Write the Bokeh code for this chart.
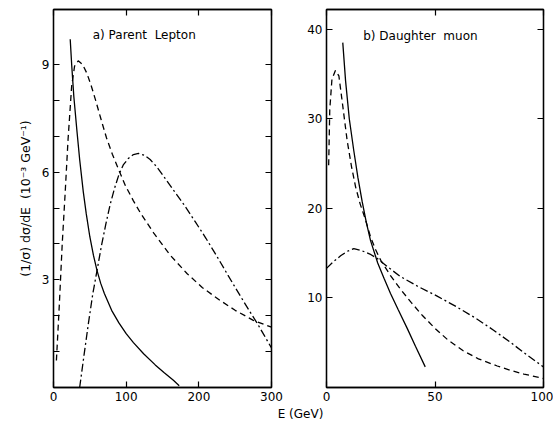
from bokeh.plotting import figure
from bokeh.models import Range1d, LinearAxis, FixedTicker, Label
from bokeh.layouts import row, column
from bokeh.embed import file_html
from bokeh.resources import INLINE

# ---------------- data: panel a) Parent Lepton ----------------
a_solid_E = [23, 25, 28, 32, 36, 41, 45, 50, 55, 60, 65, 70, 80, 90, 100, 110, 124, 140, 152, 165, 173]
a_solid_y = [9.7, 9.0, 8.1, 7.2, 6.35, 5.45, 4.85, 4.2, 3.68, 3.25, 2.9, 2.62, 2.15, 1.8, 1.5, 1.25, 0.94, 0.63, 0.42, 0.2, 0.05]

a_dash_E = [4, 8, 12, 16, 20, 25, 29, 34, 40, 46, 52, 58, 65, 73, 81, 89, 99, 110, 120, 138, 160, 184, 205, 229, 250, 275, 300]
a_dash_y = [0.75, 2.3, 4.0, 5.4, 6.9, 8.4, 8.95, 9.1, 9.0, 8.75, 8.4, 8.0, 7.5, 6.95, 6.5, 6.1, 5.62, 5.2, 4.85, 4.3, 3.7, 3.17, 2.78, 2.43, 2.15, 1.87, 1.68]

a_dd_E = [36, 42, 48, 54, 60, 66, 72, 78, 84, 90, 96, 103, 110, 117, 125, 133, 142, 151, 165, 180, 195, 210, 225, 240, 255, 270, 280, 290, 300]
a_dd_y = [0.0, 0.9, 1.78, 2.6, 3.27, 3.95, 4.55, 5.1, 5.55, 5.93, 6.2, 6.38, 6.49, 6.52, 6.47, 6.35, 6.15, 5.9, 5.5, 5.08, 4.62, 4.15, 3.65, 3.13, 2.62, 2.12, 1.8, 1.45, 1.1]

# ---------------- data: panel b) Daughter muon ----------------
b_solid_E = [7.5, 8.8, 10.5, 12.6, 14.5, 16.4, 18.3, 20.3, 23.6, 26.5, 29.5, 33, 37.2, 41, 45.5]
b_solid_y = [38.5, 34.2, 30.0, 26.4, 23.4, 20.8, 18.5, 16.4, 13.9, 12.2, 10.5, 8.7, 6.6, 4.6, 2.3]

b_dash_E = [1.0, 1.5, 2.5, 4.1, 5.7, 7.2, 9.5, 11.5, 13.4, 15.5, 18, 20.3, 22.6, 25, 29.5, 34, 39, 44, 50, 56, 63, 70, 78.7, 85, 91, 100]
b_dash_y = [24.8, 31.0, 34.4, 35.4, 34.8, 32.0, 27.6, 24.7, 22.4, 20.5, 18.7, 16.8, 15.4, 14.2, 12.5, 11.0, 9.5, 8.1, 6.6, 5.3, 4.1, 3.2, 2.4, 1.9, 1.5, 1.0]

b_dd_E = [0, 3, 6.5, 9.5, 12.6, 16, 20, 23.4, 28, 34, 42, 51, 60, 69, 77, 85, 92, 100]
b_dd_y = [13.3, 14.0, 14.7, 15.2, 15.5, 15.3, 14.9, 14.4, 13.5, 12.4, 11.3, 10.2, 9.0, 7.7, 6.4, 5.0, 3.7, 2.3]

# ticks
a_xticks = [0, 100, 200, 300]
a_yticks = [3, 6, 9]
a_yminor = [1, 2, 4, 5, 7, 8]
b_xticks = [0, 50, 100]
b_yticks = [10, 20, 30, 40]

FONT = "DejaVu Sans"
LW = 1.3


def style_axis(ax, labels=True):
    ax.major_tick_in = 6
    ax.major_tick_out = 0
    ax.minor_tick_in = 6
    ax.minor_tick_out = 0
    ax.axis_line_color = "black"
    ax.axis_line_width = LW
    ax.major_tick_line_color = "black"
    ax.major_tick_line_width = 1.2
    ax.minor_tick_line_color = "black"
    ax.minor_tick_line_width = 1.2
    if labels:
        ax.major_label_text_font = FONT
        ax.major_label_text_font_size = "12px"
        ax.major_label_text_color = "black"
        ax.major_label_standoff = 4
    else:
        ax.major_label_text_font_size = "0px"
        ax.major_label_text_color = None
        ax.major_label_standoff = 0


def make_panel(xr, yr, xticks, yticks, yminor, fw, bl, br):
    p = figure(width=bl + fw + br, height=405,
               frame_width=fw, frame_height=378,
               x_range=Range1d(*xr), y_range=Range1d(*yr),
               min_border_left=bl, min_border_right=br,
               min_border_top=9, min_border_bottom=18,
               output_backend="svg", toolbar_location=None,
               background_fill_color="white", border_fill_color="white")
    p.xgrid.visible = False
    p.ygrid.visible = False
    p.outline_line_color = "black"
    p.outline_line_width = LW
    p.xaxis[0].ticker = FixedTicker(ticks=xticks, minor_ticks=[])
    p.yaxis[0].ticker = FixedTicker(ticks=yticks, minor_ticks=yminor)
    style_axis(p.xaxis[0])
    style_axis(p.yaxis[0])
    right = LinearAxis(ticker=FixedTicker(ticks=yticks, minor_ticks=yminor))
    style_axis(right, labels=False)
    p.add_layout(right, "right")
    top = LinearAxis(ticker=FixedTicker(ticks=xticks, minor_ticks=[]))
    style_axis(top, labels=False)
    p.add_layout(top, "above")
    return p


pa = make_panel((0, 300), (0, 10.53), a_xticks, a_yticks, a_yminor, 218, 53, 27)
pa.yaxis[0].axis_label = "(1/\u03c3) d\u03c3/dE \u00a0(10\u207b\u00b3 GeV\u207b\u00b9)"
pa.yaxis[0].axis_label_text_font = FONT
pa.yaxis[0].axis_label_text_font_size = "12.5px"
pa.yaxis[0].axis_label_text_font_style = "normal"
pa.yaxis[0].axis_label_text_color = "black"
pa.yaxis[0].axis_label_standoff = 6

pa.line(a_solid_E, a_solid_y, line_color="black", line_width=LW)
pa.line(a_dash_E, a_dash_y, line_color="black", line_width=LW, line_dash="6 4")
pa.line(a_dd_E, a_dd_y, line_color="black", line_width=LW, line_dash="8 3 2 3")
pa.add_layout(Label(x=54, y=9.82, text="a) Parent \u00a0Lepton", text_font=FONT,
                    text_font_size="12px", text_baseline="middle", text_color="black"))

pb = make_panel((0, 100), (0, 42.2), b_xticks, b_yticks, [], 217, 28, 10)
pb.line(b_solid_E, b_solid_y, line_color="black", line_width=LW)
pb.line(b_dash_E, b_dash_y, line_color="black", line_width=LW, line_dash="6 4")
pb.line(b_dd_E, b_dd_y, line_color="black", line_width=LW, line_dash="8 3 2 3")
pb.add_layout(Label(x=16.9, y=39.2, text="b) Daughter \u00a0muon", text_font=FONT,
                    text_font_size="12px", text_baseline="middle", text_color="black"))

# strip with the shared x-axis title
pc = figure(width=553, height=20, frame_width=553, frame_height=20,
            x_range=Range1d(0, 553), y_range=Range1d(0, 20),
            min_border=0, output_backend="svg", toolbar_location=None,
            outline_line_color=None)
pc.axis.visible = False
pc.xgrid.visible = False
pc.ygrid.visible = False
pc.add_layout(Label(x=300, y=12, text="E (GeV)", text_font=FONT, text_font_size="12px",
                    text_align="center", text_baseline="middle", text_color="black"))

layout = column(row(pa, pb, spacing=0), pc, spacing=0)

open("out.html", "w").write(file_html(layout, INLINE))
